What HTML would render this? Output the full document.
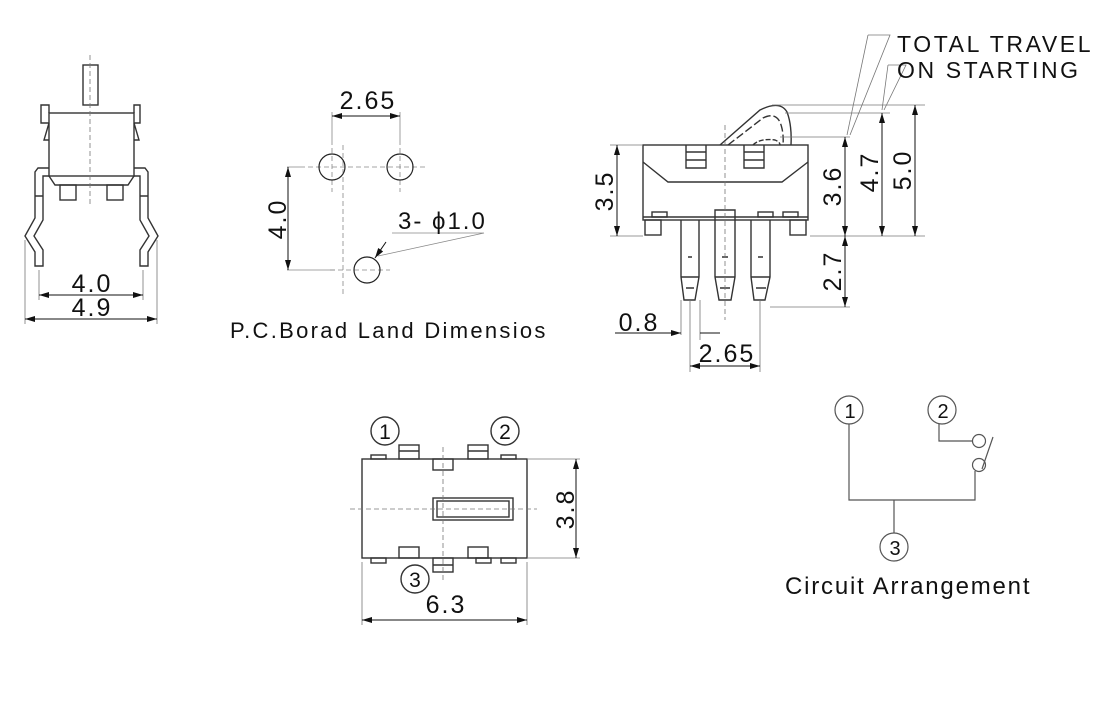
<!DOCTYPE html>
<html><head><meta charset="utf-8"><style>
html,body{margin:0;padding:0;background:#fff;}
svg{display:block}
text{font-family:"Liberation Sans",sans-serif;fill:#111;letter-spacing:2px}
</style></head><body>
<svg width="1120" height="722" viewBox="0 0 1120 722" xmlns="http://www.w3.org/2000/svg">
<defs>
<marker id="a" viewBox="0 0 10 6" refX="10" refY="3" markerWidth="14" markerHeight="6" markerUnits="userSpaceOnUse" orient="auto-start-reverse"><path d="M0,0L10,3L0,6z" fill="#111"/></marker>
</defs>
<g fill="none" stroke="#333" stroke-width="1.4">
<rect x="83" y="65" width="15" height="40"/>
<path d="M49,113 V105 H41 V123 L49,123 M49,123 L44,140 H49"/>
<path d="M134,113 V105 H140 V123 L134,123 M134,123 L139,140 H134"/>
<rect x="49" y="113" width="85" height="63"/>
<path d="M49,176 L55,185 H128 L134,176"/>
<rect x="60" y="185" width="16" height="15"/>
<rect x="107" y="185" width="16" height="15"/>
<path d="M49,168 H38 L35,172 V218 L25,236 L35,252 V266 H43 V250 L34,236 L43,220 V176 H49 M35,196 H43"/>
<path d="M134,168 H145 L148,172 V218 L158,236 L148,252 V266 H140 V250 L149,236 L140,220 V176 H134 M140,196 H148"/>
</g>
<g stroke="#777" stroke-width="0.8" fill="none">
<path d="M90,55 V205" stroke-dasharray="5,3"/>
<path d="M39,270 V300 M143,270 V300 M25,240 V324 M157,240 V324"/>
</g>
<g stroke="#111" stroke-width="1" fill="none">
<path d="M39,295 H143" marker-start="url(#a)" marker-end="url(#a)"/>
<path d="M25,319 H157" marker-start="url(#a)" marker-end="url(#a)"/>
</g>
<text x="92" y="292" font-size="25" text-anchor="middle">4.0</text>
<text x="92" y="316" font-size="25" text-anchor="middle">4.9</text>

<!-- PCB -->
<g stroke="#888" stroke-width="0.8" fill="none" stroke-dasharray="5,3">
<path d="M300,167 H425 M332,140 V192 M400,140 V192 M343,145 V295 M330,270 H390"/>
</g>
<g stroke="#888" stroke-width="0.8" fill="none">
<path d="M332,112 V140 M400,112 V140 M287,167 H300 M287,270 H335 M392,233 H484 L378,256"/>
</g>
<g stroke="#222" stroke-width="1.2" fill="none">
<circle cx="332" cy="167" r="13"/><circle cx="400" cy="167" r="13"/><circle cx="367" cy="270" r="13"/>
</g>
<g stroke="#111" stroke-width="1" fill="none">
<path d="M332,116 H400" marker-start="url(#a)" marker-end="url(#a)"/>
<path d="M288,167 V270" marker-start="url(#a)" marker-end="url(#a)"/>
<path d="M386,242 L375,258" marker-end="url(#a)"/>
</g>
<text x="368" y="109" font-size="25" text-anchor="middle">2.65</text>
<text transform="translate(286,219) rotate(-90)" font-size="25" text-anchor="middle">4.0</text>
<text x="398" y="229" font-size="24">3- ϕ1.0</text>
<text x="230" y="338" font-size="22" style="letter-spacing:2.3px">P.C.Borad Land Dimensios</text>

<!-- SIDE VIEW -->
<g stroke="#333" stroke-width="1.4" fill="none">
<path d="M720,145 L760,110 Q780,100 787,112 Q792,125 791,145"/>
<path d="M728,145 L763,118 Q775,112 780,122 Q784,132 783,145" stroke-dasharray="8,3"/>
<path d="M753,145 Q760,138 775,140 Q780,142 780,145" stroke-dasharray="5,2"/>
<rect x="643" y="145" width="165" height="75"/>
<path d="M643,217 H808"/>
<path d="M643,162 L668,182 H782 L808,162"/>
<path d="M686,145 V168 H706 V145 M686,152 H706 M686,160 H706"/>
<path d="M744,145 V168 H764 V145 M744,152 H764 M744,160 H764"/>
<rect x="652" y="212" width="15" height="5"/><rect x="758" y="212" width="15" height="5"/><rect x="783" y="212" width="15" height="5"/>
<rect x="645" y="220" width="16" height="15"/><rect x="790" y="220" width="16" height="15"/>
<path d="M681,220 V277 L684,300 H695 L699,277 V220 M681,277 H699 M688,257 H692 M686,288 H694"/>
<path d="M715,210 H735 V277 L731,300 H719 L715,277 Z M715,277 H735 M722,257 H728 M720,288 H730"/>
<path d="M751,220 V277 L754,300 H765 L770,277 V220 M751,277 H770 M758,257 H763 M756,288 H766"/>
</g>
<g stroke="#777" stroke-width="0.8" fill="none">
<path d="M725,125 V320" stroke-dasharray="5,3"/>
<path d="M610,145 H643 M610,236 H643 M810,236 H925 M770,307 H850 M772,105 H925 M785,113 H890 M780,137 H850"/>
<path d="M681,300 V335 M700,300 V340 M690,300 V372 M760,300 V372"/>
<path d="M868,35 H890 L850,135 M868,35 L847,135 M888,65 H906 L884,110 M888,65 L882,110"/>
</g>
<g stroke="#111" stroke-width="1" fill="none">
<path d="M617,145 V236" marker-start="url(#a)" marker-end="url(#a)"/>
<path d="M845,137 V236" marker-start="url(#a)" marker-end="url(#a)"/>
<path d="M882,113 V236" marker-start="url(#a)" marker-end="url(#a)"/>
<path d="M915,105 V236" marker-start="url(#a)" marker-end="url(#a)"/>
<path d="M845,236 V307" marker-start="url(#a)" marker-end="url(#a)"/>
<path d="M615,333 H681" marker-end="url(#a)"/>
<path d="M700,333 H720"/>
<path d="M690,366 H760" marker-start="url(#a)" marker-end="url(#a)"/>
</g>
<text transform="translate(613,191) rotate(-90)" font-size="25" text-anchor="middle">3.5</text>
<text transform="translate(841,186) rotate(-90)" font-size="25" text-anchor="middle">3.6</text>
<text transform="translate(878,172) rotate(-90)" font-size="25" text-anchor="middle">4.7</text>
<text transform="translate(911,170) rotate(-90)" font-size="25" text-anchor="middle">5.0</text>
<text transform="translate(841,271) rotate(-90)" font-size="25" text-anchor="middle">2.7</text>
<text x="639" y="331" font-size="25" text-anchor="middle">0.8</text>
<text x="727" y="362" font-size="25" text-anchor="middle">2.65</text>
<text x="897" y="52" font-size="23" style="letter-spacing:2.6px">TOTAL TRAVEL</text>
<text x="897" y="78" font-size="23" style="letter-spacing:2.6px">ON STARTING</text>

<!-- TOP VIEW -->
<g stroke="#333" stroke-width="1.4" fill="none">
<rect x="362" y="459" width="165" height="99"/>
<rect x="433" y="498" width="80" height="22"/><rect x="437" y="501" width="72" height="16"/>
<rect x="399" y="445" width="20" height="14"/><path d="M399,451 H419"/>
<rect x="468" y="445" width="20" height="14"/><path d="M468,451 H488"/>
<rect x="371" y="455" width="15" height="4"/><rect x="501" y="455" width="15" height="4"/>
<rect x="433" y="459" width="20" height="11"/>
<rect x="399" y="547" width="20" height="11"/><rect x="468" y="547" width="20" height="11"/>
<rect x="371" y="558" width="15" height="5"/><rect x="476" y="558" width="15" height="5"/><rect x="501" y="558" width="15" height="5"/>
<rect x="433" y="558" width="20" height="14"/><path d="M433,565 H453"/>
<circle cx="385" cy="431" r="14"/><circle cx="505" cy="431" r="14"/><circle cx="415" cy="579" r="14"/>
</g>
<g stroke="#777" stroke-width="0.8" fill="none">
<path d="M443,447 V582 M350,509 H537" stroke-dasharray="5,3"/>
<path d="M527,459 H580 M527,558 H580 M362,562 V625 M527,562 V625"/>
</g>
<g stroke="#111" stroke-width="1" fill="none">
<path d="M576,459 V558" marker-start="url(#a)" marker-end="url(#a)"/>
<path d="M362,620 H527" marker-start="url(#a)" marker-end="url(#a)"/>
</g>
<text x="386" y="439" font-size="21" text-anchor="middle">1</text>
<text x="506" y="439" font-size="21" text-anchor="middle">2</text>
<text x="416" y="587" font-size="21" text-anchor="middle">3</text>
<text transform="translate(574,509) rotate(-90)" font-size="25" text-anchor="middle">3.8</text>
<text x="446" y="613" font-size="25" text-anchor="middle">6.3</text>

<!-- CIRCUIT -->
<g stroke="#555" stroke-width="1.2" fill="none">
<circle cx="849" cy="410" r="14"/><circle cx="942" cy="410" r="14"/><circle cx="894" cy="547" r="14"/>
<path d="M849,424 V500 H975 V471 M894,500 V533 M939,424 V441 H972"/>
<circle cx="979" cy="441" r="6.5"/><circle cx="979" cy="465" r="6.5"/>
<path d="M982,469 L993,437"/>
</g>
<text x="850" y="418" font-size="20" text-anchor="middle" style="letter-spacing:0">1</text>
<text x="943" y="418" font-size="20" text-anchor="middle" style="letter-spacing:0">2</text>
<text x="895" y="555" font-size="20" text-anchor="middle" style="letter-spacing:0">3</text>
<text x="785" y="594" font-size="24" style="letter-spacing:1.8px">Circuit  Arrangement</text>
</svg>
</body></html>
